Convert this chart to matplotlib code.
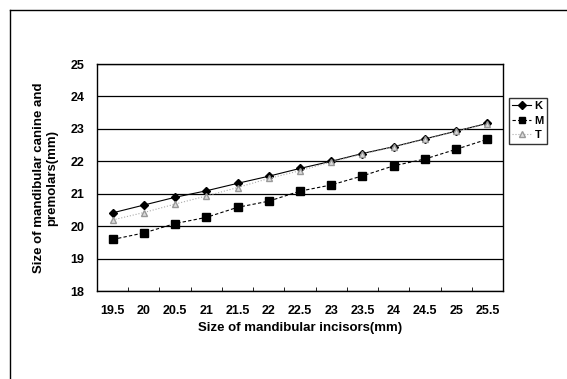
import matplotlib
matplotlib.use('Agg')
import matplotlib.pyplot as plt
import numpy as np

# Data
sizes = ['19.5', '20', '20.5', '21', '21.5', '22', '22.5', '23', '23.5', '24', '24.5', '25', '25.5']
k_vals = [20.41, 20.65, 20.89, 21.09, 21.32, 21.54, 21.78, 22.0, 22.24, 22.45, 22.69, 22.93, 23.17]
m_vals = [19.59, 19.79, 20.08, 20.27, 20.58, 20.77, 21.08, 21.27, 21.55, 21.86, 22.07, 22.37, 22.68]
t_vals = [20.19, 20.42, 20.68, 20.93, 21.19, 21.47, 21.71, 21.98, 22.22, 22.44, 22.68, 22.92, 23.16]

plt.rcParams['font.family'] = ['Liberation Sans', 'DejaVu Sans']

fig = plt.figure(figsize=(5.67, 3.79), dpi=100)
ax = fig.add_axes([97 / 567, 1 - 291 / 379, 406 / 567, 227 / 379])

x = np.arange(len(sizes))
ax.plot(x, k_vals, color='black', lw=0.8, marker='D', ms=4.5, label='K')
ax.plot(x, m_vals, color='black', lw=0.8, ls=(0, (3, 2)), marker='s', ms=5.5, label='M')
ax.plot(x, t_vals, color='#aaaaaa', lw=0.8, ls=':', marker='^', ms=5,
        mfc='#dddddd', mec='#999999', label='T')

ax.set_xlim(-0.5, len(sizes) - 0.5)
ax.set_ylim(18, 25)
ax.set_yticks(range(18, 26))
ax.set_xticks(x)
ax.set_xticklabels(sizes)
ax.set_xticks(np.arange(-0.5, len(sizes), 1), minor=True)
ax.tick_params(axis='x', which='major', length=0, pad=10)
ax.tick_params(axis='x', which='minor', length=3, direction='in')
ax.tick_params(axis='y', length=0, pad=9)
for lbl in ax.get_xticklabels() + ax.get_yticklabels():
    lbl.set_fontsize(9)
    lbl.set_fontweight('bold')

ax.yaxis.grid(True, color='black', lw=0.9)
ax.set_axisbelow(True)
for s in ax.spines.values():
    s.set_linewidth(1.0)

ax.set_xlabel('Size of mandibular incisors(mm)', fontsize=9.5, fontweight='bold', labelpad=4)
ax.set_ylabel('Size of mandibular canine and\npremolars(mm)', fontsize=9.5,
              fontweight='bold', labelpad=9, linespacing=1.1)

leg = ax.legend(loc='upper left', bbox_to_anchor=(509 / 567, 1 - 98 / 379),
                bbox_transform=fig.transFigure, frameon=True, fancybox=False,
                prop={'size': 8, 'weight': 'bold'}, handlelength=1.7,
                handletextpad=0.3, borderpad=0.3, labelspacing=0.4, borderaxespad=0,
                markerscale=0.8)
leg.get_frame().set_edgecolor('black')
leg.get_frame().set_linewidth(1.0)

# Outer chart frame (top and left edges visible in the scan)
fig.add_artist(plt.Line2D([10 / 567, 1], [1 - 10 / 379, 1 - 10 / 379], color='black', lw=1.0,
                          transform=fig.transFigure))
fig.add_artist(plt.Line2D([10 / 567, 10 / 567], [0, 1 - 10 / 379], color='black', lw=1.0,
                          transform=fig.transFigure))

fig.savefig('out.png', dpi=100)
